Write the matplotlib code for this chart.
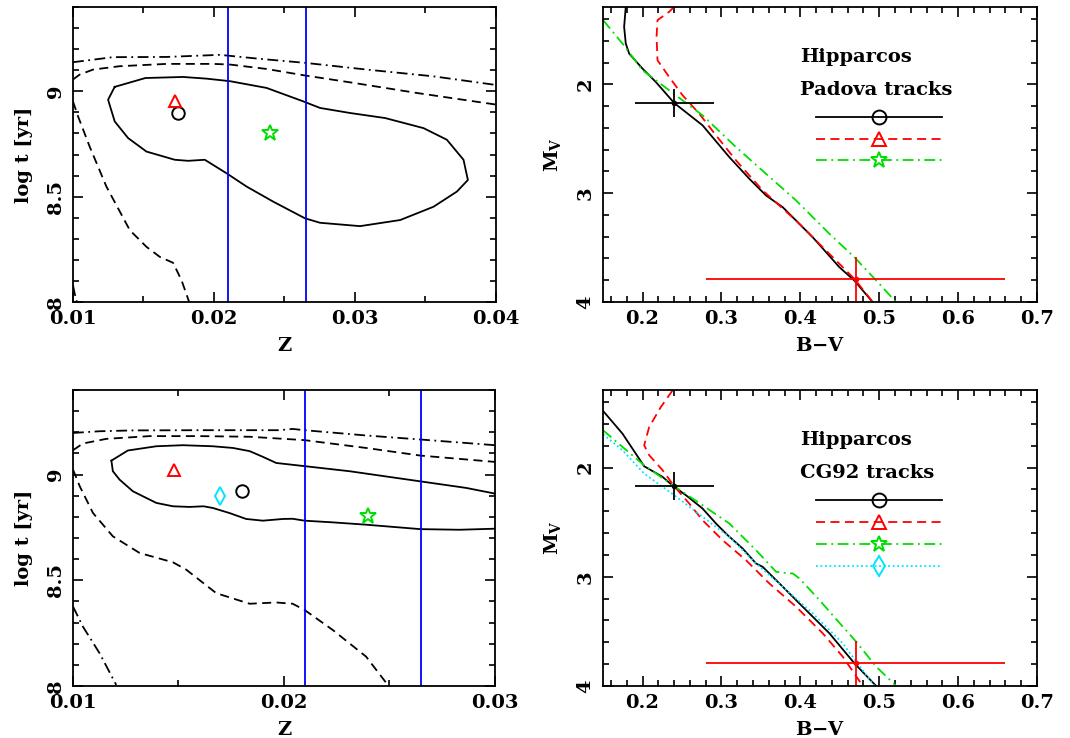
import matplotlib.pyplot as plt
import numpy as np
from matplotlib.ticker import MultipleLocator, FuncFormatter

plt.rcParams['font.family'] = ['DejaVu Serif']
plt.rcParams['font.weight'] = 'bold'
plt.rcParams['axes.labelweight'] = 'bold'
plt.rcParams['mathtext.fontset'] = 'dejavuserif'
plt.rcParams['mathtext.default'] = 'bf'

# ---------- Padova fit: confidence contours in the (Z, log t) plane ----------
pad_c1_z = [0.01296, 0.01514, 0.01781, 0.01947, 0.02113, 0.02373, 0.02634, 0.02752, 0.02965,
            0.03214, 0.03487, 0.03652, 0.03770, 0.03801, 0.03723, 0.03557, 0.03321, 0.03036,
            0.02752, 0.02646, 0.02421, 0.02231, 0.02096, 0.01935, 0.01817, 0.01722, 0.01521,
            0.01391, 0.01296, 0.01249, 0.01296]
pad_c1_t = [9.021, 9.063, 9.068, 9.060, 9.048, 9.016, 8.952, 8.921, 8.897,
            8.873, 8.825, 8.770, 8.675, 8.579, 8.524, 8.452, 8.389, 8.360,
            8.376, 8.397, 8.476, 8.548, 8.608, 8.675, 8.670, 8.675, 8.714,
            8.778, 8.857, 8.960, 9.021]
pad_c2a_z = [0.0100, 0.01047, 0.01142, 0.01331, 0.01663, 0.01994, 0.02113, 0.02373, 0.02646, 0.02989, 0.03439, 0.0400]
pad_c2a_t = [9.056, 9.079, 9.103, 9.119, 9.130, 9.130, 9.127, 9.106, 9.075, 9.040, 8.992, 8.937]
pad_c2b_z = [0.0100, 0.01036, 0.01118, 0.01237, 0.01403, 0.01521, 0.01616, 0.01710, 0.01770, 0.01824]
pad_c2b_t = [8.952, 8.881, 8.738, 8.548, 8.341, 8.262, 8.214, 8.186, 8.103, 8.000]
pad_c3a_z = [0.0100, 0.01284, 0.01663, 0.02042, 0.02326, 0.02646, 0.03084, 0.03557, 0.0400]
pad_c3a_t = [9.138, 9.162, 9.163, 9.173, 9.154, 9.135, 9.103, 9.071, 9.030]
pad_c3b_z = [0.0100, 0.01012, 0.01028]
pad_c3b_t = [8.079, 8.040, 8.000]

# ---------- CG92 fit: confidence contours ----------
cg_c1_z = [0.01182, 0.01260, 0.01395, 0.01521, 0.01663, 0.01758, 0.01837, 0.01900, 0.01963, 0.02097,
           0.02310, 0.02646, 0.02863, 0.03000]
cg_c1_t = [9.066, 9.114, 9.134, 9.139, 9.134, 9.126, 9.111, 9.084, 9.055, 9.040,
           9.016, 8.968, 8.937, 8.910]
cg_c1b_z = [0.03000, 0.02831, 0.02646, 0.02389, 0.02231, 0.02097, 0.02041, 0.01994, 0.01900, 0.01821,
            0.01742, 0.01663, 0.01619, 0.01552, 0.01474, 0.01395, 0.01284, 0.01221, 0.01189, 0.01182]
cg_c1b_t = [8.744, 8.739, 8.742, 8.763, 8.774, 8.782, 8.791, 8.790, 8.782, 8.790,
            8.818, 8.842, 8.850, 8.847, 8.850, 8.866, 8.921, 8.976, 9.016, 9.066]
cg_c2a_z = [0.0100, 0.01047, 0.01158, 0.01363, 0.01600, 0.01837, 0.02097, 0.02389, 0.02646, 0.0300]
cg_c2a_t = [9.115, 9.147, 9.169, 9.182, 9.182, 9.179, 9.163, 9.126, 9.090, 9.060]
cg_c2b_z = [0.0100, 0.01032, 0.01095, 0.01189, 0.01316, 0.01474, 0.01537, 0.01679, 0.01837, 0.01963,
            0.02041, 0.02097, 0.02231, 0.02389, 0.02492]
cg_c2b_t = [9.024, 8.945, 8.818, 8.708, 8.629, 8.585, 8.550, 8.439, 8.389, 8.395,
            8.389, 8.360, 8.265, 8.139, 8.005]
cg_c3a_z = [0.0100, 0.01126, 0.01284, 0.01600, 0.01979, 0.02041, 0.02097, 0.02389, 0.02646, 0.0300]
cg_c3a_t = [9.197, 9.205, 9.209, 9.210, 9.210, 9.216, 9.210, 9.185, 9.166, 9.139]
cg_c3b_z = [0.0100, 0.01047, 0.01126, 0.01205]
cg_c3b_t = [8.376, 8.281, 8.155, 8.005]

# metallicity range (vertical lines)
z_range = [0.021, 0.0265]

# best fits (Z, log t)
pad_best = {'circle': (0.01746, 8.897), 'triangle': (0.01722, 8.956), 'star': (0.02397, 8.802)}
cg_best = {'circle': (0.0180, 8.921), 'triangle': (0.0148, 9.021), 'star': (0.02397, 8.803),
           'diamond': (0.01698, 8.900)}

# ---------- isochrones in the CMD ----------
pad_iso_k_bv = [0.1788, 0.1767, 0.1788, 0.1831, 0.200, 0.2169, 0.2402, 0.2761, 0.310, 0.3354, 0.3565,
                0.3777, 0.4157, 0.4496, 0.4686, 0.4919]
pad_iso_k_mv = [1.288, 1.472, 1.626, 1.718, 1.856, 1.979, 2.172, 2.377, 2.669, 2.868, 3.021,
                3.129, 3.405, 3.681, 3.804, 4.003]
pad_iso_r_bv = [0.2402, 0.2338, 0.219, 0.2178, 0.219, 0.2338, 0.2508, 0.2719, 0.2931, 0.3185, 0.3523,
                0.3946, 0.4369, 0.4686, 0.4919]
pad_iso_r_mv = [1.288, 1.334, 1.411, 1.564, 1.779, 1.933, 2.101, 2.270, 2.469, 2.699, 2.975,
                3.252, 3.558, 3.788, 4.000]
pad_iso_g_bv = [0.1501, 0.1746, 0.200, 0.2338, 0.2761, 0.3185, 0.3565, 0.3946, 0.4369, 0.4686, 0.5003, 0.5215]
pad_iso_g_mv = [1.411, 1.626, 1.871, 2.055, 2.285, 2.577, 2.822, 3.067, 3.374, 3.589, 3.834, 4.003]

cg_iso_k_bv = [0.1501, 0.1746, 0.2021, 0.2254, 0.2402, 0.255, 0.2761, 0.2931, 0.3079, 0.3269, 0.3438,
               0.3523, 0.3777, 0.3988, 0.4369, 0.4686, 0.4961]
cg_iso_k_mv = [1.482, 1.689, 1.988, 2.085, 2.177, 2.253, 2.375, 2.512, 2.619, 2.741, 2.878,
               2.909, 3.091, 3.244, 3.518, 3.793, 4.000]
cg_iso_r_bv = [0.2381, 0.2233, 0.2085, 0.2021, 0.2085, 0.2254, 0.2402, 0.2592, 0.2761, 0.3015, 0.3311,
               0.3607, 0.3946, 0.4284, 0.4538, 0.4792]
cg_iso_r_mv = [1.293, 1.445, 1.628, 1.796, 1.887, 2.024, 2.171, 2.329, 2.482, 2.665, 2.848,
               3.061, 3.274, 3.518, 3.732, 4.000]
cg_iso_g_bv = [0.1501, 0.1746, 0.2021, 0.2402, 0.2761, 0.310, 0.3438, 0.3692, 0.3777, 0.3904, 0.3988,
               0.4242, 0.4538, 0.4708, 0.4961, 0.5215]
cg_iso_g_mv = [1.659, 1.811, 1.979, 2.171, 2.345, 2.512, 2.756, 2.954, 2.963, 2.970, 3.015,
               3.213, 3.457, 3.595, 3.823, 4.000]
cg_iso_c_bv = [0.1501, 0.1746, 0.2021, 0.2402, 0.2761, 0.310, 0.3438, 0.3777, 0.4157, 0.4538, 0.4708, 0.494]
cg_iso_c_mv = [1.695, 1.841, 2.055, 2.253, 2.451, 2.634, 2.878, 3.091, 3.335, 3.610, 3.777, 4.000]

# Hipparcos stars: B-V, M_V and errors
hip_bv = [0.24, 0.47]
hip_mv = [2.17, 3.79]
hip_bv_err = [0.05, 0.19]
hip_mv_err = [0.13, 0.20]
hip_col = ['black', 'red']

DASH = (0, (5, 3))
DASHDOT = (0, (6, 2.5, 1, 2.5))
DOT = (0, (1, 1.5))
BLUE, RED, GREEN, CYAN = '#0000ff', '#ff0000', '#00dd00', '#00e5ff'


def style_axes(ax, xmaj, xmin, ymaj, ymin):
    ax.xaxis.set_major_locator(MultipleLocator(xmaj))
    ax.xaxis.set_minor_locator(MultipleLocator(xmin))
    ax.yaxis.set_major_locator(MultipleLocator(ymaj))
    ax.yaxis.set_minor_locator(MultipleLocator(ymin))
    ax.tick_params(which='both', direction='in', top=True, right=True, width=1.2,
                   labelsize=14)
    ax.tick_params(which='major', length=7, pad=6)
    ax.tick_params(which='minor', length=4)
    ax.tick_params(axis='y', labelrotation=90)
    for lab in ax.get_yticklabels():
        lab.set_va('center')
    for s in ax.spines.values():
        s.set_linewidth(1.3)
    ax.yaxis.set_major_formatter(FuncFormatter(lambda v, p: f'{v:g}'))
    ax.xaxis.set_major_formatter(FuncFormatter(lambda v, p: f'{v:g}'))


def contour_panel(ax, curves, best, zmax):
    for z, t, ls in curves:
        ax.plot(z, t, color='black', lw=1.3, ls=ls)
    for zr in z_range:
        ax.axvline(zr, color=BLUE, lw=1.3)
    mk = {'circle': ('o', 'black'), 'triangle': ('^', RED), 'star': ('*', GREEN), 'diamond': ('d', CYAN)}
    for k, (z, t) in best.items():
        m, c = mk[k]
        ax.plot(z, t, marker=m, mfc='none', mec=c, ms=12 if m == '*' else 9, mew=1.4, ls='none')
    ax.set_xlim(0.01, zmax)
    ax.set_ylim(8, 9.4)
    style_axes(ax, 0.01, 0.005, 0.5, 0.1)
    ax.set_xlabel('Z', fontsize=14, labelpad=6)
    ax.set_ylabel('log t [yr]', fontsize=14, labelpad=10)


def cmd_panel(ax, isos, title):
    for bv, mv, c, ls in isos:
        ax.plot(bv, mv, color=c, ls=ls, lw=1.3)
    for x, y, ex, ey, c in zip(hip_bv, hip_mv, hip_bv_err, hip_mv_err, hip_col):
        ax.errorbar(x, y, xerr=ex, yerr=ey, fmt='o', ms=3, color=c, elinewidth=1.3, capsize=0)
    ax.text(0.40, 1.75, 'Hipparcos', fontsize=14, va='center')
    ax.text(0.40, 2.05, title, fontsize=14, va='center')
    mk = ['o', '^', '*', 'd']
    for i, (bv, mv, c, ls) in enumerate(isos):
        y = 2.3 + 0.2 * i
        ax.plot([0.42, 0.58], [y, y], color=c, ls=ls, lw=1.3)
        ax.plot(0.5, y, marker=mk[i], mfc='none', mec=c, ms=12 if mk[i] == '*' else 10, mew=1.4)
    ax.set_xlim(0.15, 0.7)
    ax.set_ylim(4, 1.29)
    style_axes(ax, 0.1, 0.02, 1, 0.2)
    ax.set_xlabel('B$-$V', fontsize=14, labelpad=6)
    ax.set_ylabel(r'M$_{\rm V}$', fontsize=14, labelpad=10)


fig = plt.figure(figsize=(10.7, 7.38), dpi=100)
ax1 = fig.add_axes([0.0682, 0.5908, 0.3953, 0.3997])
ax2 = fig.add_axes([0.5636, 0.5908, 0.4056, 0.3997])
ax3 = fig.add_axes([0.0682, 0.0705, 0.3944, 0.4010])
ax4 = fig.add_axes([0.5636, 0.0705, 0.4056, 0.4010])

contour_panel(ax1, [(pad_c1_z, pad_c1_t, '-'), (pad_c2a_z, pad_c2a_t, DASH), (pad_c2b_z, pad_c2b_t, DASH),
                    (pad_c3a_z, pad_c3a_t, DASHDOT), (pad_c3b_z, pad_c3b_t, DASHDOT)], pad_best, 0.04)
contour_panel(ax3, [(cg_c1_z, cg_c1_t, '-'), (cg_c1b_z, cg_c1b_t, '-'), (cg_c2a_z, cg_c2a_t, DASH),
                    (cg_c2b_z, cg_c2b_t, DASH), (cg_c3a_z, cg_c3a_t, DASHDOT), (cg_c3b_z, cg_c3b_t, DASHDOT)],
              cg_best, 0.03)

cmd_panel(ax2, [(pad_iso_k_bv, pad_iso_k_mv, 'black', '-'), (pad_iso_r_bv, pad_iso_r_mv, RED, DASH),
                (pad_iso_g_bv, pad_iso_g_mv, GREEN, DASHDOT)], 'Padova tracks')
cmd_panel(ax4, [(cg_iso_k_bv, cg_iso_k_mv, 'black', '-'), (cg_iso_r_bv, cg_iso_r_mv, RED, DASH),
                (cg_iso_g_bv, cg_iso_g_mv, GREEN, DASHDOT), (cg_iso_c_bv, cg_iso_c_mv, CYAN, DOT)],
          'CG92 tracks')

fig.savefig('out.png', dpi=100)
